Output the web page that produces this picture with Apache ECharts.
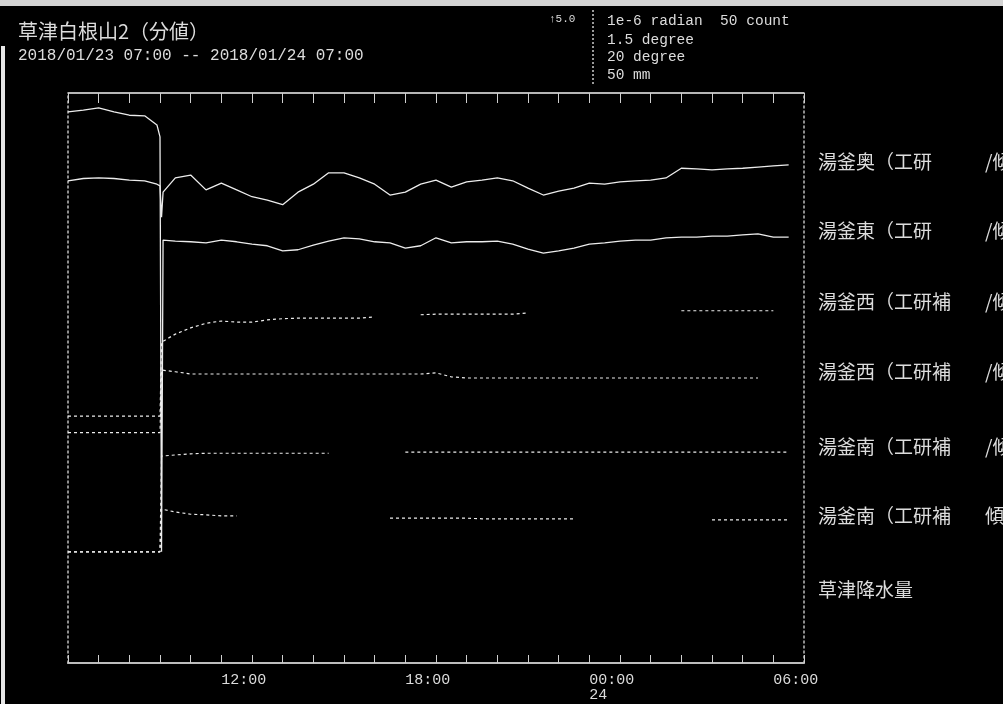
<!DOCTYPE html>
<html>
<head>
<meta charset="utf-8">
<script src="https://cdn.jsdelivr.net/npm/echarts@6/dist/echarts.min.js"></script>
<style>
html,body{margin:0;padding:0;background:#000;}
#chart{width:1003px;height:704px;}
</style>
</head>
<body>
<div id="chart"></div>
<script>
// hours since 2018/01/23 07:00
var hours = [0,0.5,1,1.5,2,2.5,2.9,3.0,3.05,3.1,3.5,4,4.5,5,5.5,6,6.5,7,7.5,8,8.5,9,9.5,10,10.5,11,11.5,12,12.5,13,13.5,14,14.5,15,15.5,16,16.5,17,17.5,18,18.5,19,19.5,20,20.5,21,21.5,22,22.5,23,23.5];

// display positions (percent of panel height, 0 = bottom, 100 = top)
var yugamaOku = [84.6,85.0,85.1,85.0,84.7,84.6,84.0,83.7,78.2,82.6,85.1,85.6,83.0,84.2,83.0,81.8,81.2,80.4,82.6,84.0,86.0,86.0,85.1,84.0,82.1,82.6,84.0,84.7,83.5,84.4,84.7,85.1,84.6,83.3,82.1,82.8,83.3,84.2,84.0,84.4,84.6,84.7,85.1,86.8,86.7,86.5,86.7,86.8,87.0,87.2,87.4];
var yugamaHigashi = [96.7,97.0,97.4,96.7,96.1,96.0,94.4,92.3,19.5,74.2,74.0,73.9,73.7,74.2,73.9,73.5,73.2,72.3,72.5,73.3,74.0,74.6,74.4,73.9,73.7,72.8,73.2,74.6,73.7,73.9,73.9,74.0,73.5,72.6,71.9,72.3,72.8,73.5,73.7,74.0,74.2,74.2,74.6,74.7,74.7,74.9,74.9,75.1,75.3,74.7,74.7];
var yugamaNishi1 = [43.3,43.3,43.3,43.3,43.3,43.3,43.3,43.3,56.3,56.3,57.7,58.8,59.6,60.0,59.8,59.8,60.2,60.4,60.5,60.5,60.5,60.5,60.5,60.7,null,null,61.1,61.2,61.2,61.2,61.2,61.2,61.2,61.4,null,null,null,null,null,null,null,null,null,61.8,61.8,61.8,61.8,61.8,61.8,61.8,null];
var yugamaNishi2 = [40.4,40.4,40.4,40.4,40.4,40.4,40.4,40.4,51.4,51.4,51.1,50.7,50.7,50.7,50.7,50.7,50.7,50.7,50.7,50.7,50.7,50.7,50.7,50.7,50.7,50.7,50.7,50.9,50.2,50.0,50.0,50.0,50.0,50.0,50.0,50.0,50.0,50.0,50.0,50.0,50.0,50.0,50.0,50.0,50.0,50.0,50.0,50.0,50.0,null,null];
var yugamaMinami1 = [19.5,19.5,19.5,19.5,19.5,19.5,19.5,19.5,36.3,36.3,36.5,36.7,36.8,36.8,36.8,36.8,36.8,36.8,36.8,36.8,36.8,null,null,null,null,37.0,37.0,37.0,37.0,37.0,37.0,37.0,37.0,37.0,37.0,37.0,37.0,37.0,37.0,37.0,37.0,37.0,37.0,37.0,37.0,37.0,37.0,37.0,37.0,37.0,37.0];
var yugamaMinami2 = [19.5,19.5,19.5,19.5,19.5,19.5,19.5,19.5,27.0,27.0,26.5,26.1,26.0,25.8,25.8,null,null,null,null,null,null,null,null,null,25.4,25.4,25.4,25.4,25.4,25.4,25.3,25.3,25.3,25.3,25.3,25.3,25.3,null,null,null,null,null,null,null,null,25.1,25.1,25.1,25.1,25.1,25.1];

// hourly precipitation (mm), hour centres
var rainHours = [0.5,1.5,2.5,3.5,4.5,5.5,6.5,7.5,8.5,9.5,10.5,11.5,12.5,13.5,14.5,15.5,16.5,17.5,18.5,19.5,20.5,21.5,22.5,23.5];
var rain = [0,0,0,0,0,0,0,0,0,0,0,0,0,0,0,0,0,0,0,0,0,0,0,0];

// x tick labels
var tickHours = [5,11,17,23];
var tickLabels = ['12:00','18:00','00:00\n24','06:00'];

// right-hand labels
var seriesNames = ['湯釜奥（工研','湯釜東（工研','湯釜西（工研補','湯釜西（工研補','湯釜南（工研補','湯釜南（工研補','草津降水量'];
var seriesUnits = ['/傾','/傾','/傾','/傾','/傾','傾',''];
var labelY = [162,231,302,372,447,516,590];

var title = '草津白根山2（分値）';
var period = '2018/01/23 07:00 -- 2018/01/24 07:00';
var scaleLines = ['1e-6 radian  50 count','1.5 degree','20 degree','50 mm'];
var scaleY = [21,40,57,75];

function pairs(arr){ return hours.map(function(h,i){ return [h, arr[i]]; }); }

var lineCol = '#ececec';
var textCol = '#dcdcdc';

var chart = echarts.init(document.getElementById('chart'));

var graphics = [
  {type:'rect', shape:{x:0,y:0,width:1003,height:6}, style:{fill:'#d4d4d4'}, silent:true},
  {type:'rect', shape:{x:1,y:46,width:4,height:658}, style:{fill:'#e8e8e8'}, silent:true},
  {type:'text', style:{text:title, x:18, y:31, fill:textCol, font:'20px "Noto Sans CJK JP"', verticalAlign:'middle'}},
  {type:'text', style:{text:period, x:18, y:56, fill:textCol, font:'16px "Liberation Mono"', verticalAlign:'middle'}},
  {type:'text', style:{text:'↑5.0', x:549, y:19, fill:textCol, font:'11px "Liberation Mono"', verticalAlign:'middle'}},
  {type:'line', shape:{x1:593,y1:10,x2:593,y2:85}, style:{stroke:'#cccccc', lineWidth:1.5, lineDash:[2,2]}}
];
scaleLines.forEach(function(t,i){
  graphics.push({type:'text', style:{text:t, x:607, y:scaleY[i], fill:textCol, font:'14.5px "Liberation Mono"', verticalAlign:'middle'}});
});
seriesNames.forEach(function(t,i){
  graphics.push({type:'text', style:{text:t, x:818, y:labelY[i], fill:textCol, font:'19px "Noto Sans CJK JP"', verticalAlign:'middle'}});
  if (seriesUnits[i]) graphics.push({type:'text', style:{text:seriesUnits[i], x:985, y:labelY[i], fill:textCol, font:'19px "Noto Sans CJK JP"', verticalAlign:'middle'}});
});

function lineSeries(name, arr, dashed){
  return {
    name:name, type:'line', xAxisIndex:0, yAxisIndex:0,
    data:pairs(arr), symbol:'none', connectNulls:false, animation:false,
    lineStyle:{color:lineCol, width:dashed?1.2:1.3, type:dashed?[3,3]:'solid'}
  };
}

var option = {
  backgroundColor:'#000',
  animation:false,
  grid:{left:68, right:199, top:93, bottom:41},
  xAxis:[
    {type:'value', position:'bottom', min:0, max:24, interval:1,
     axisLine:{show:true, onZero:false, lineStyle:{color:'#bdbdbd', width:2}},
     axisTick:{show:true, inside:true, length:8, lineStyle:{color:'#cfcfcf'}},
     splitLine:{show:false},
     axisLabel:{show:true, align:'left', margin:10, color:textCol, fontFamily:'Liberation Mono', fontSize:15, lineHeight:15,
       showMinLabel:true, showMaxLabel:true,
       formatter:function(v){ var k = tickHours.indexOf(Math.round(v*100)/100); return k>=0 ? tickLabels[k] : ''; }}
    },
    {type:'value', position:'top', min:0, max:24, interval:1,
     axisLine:{show:true, onZero:false, lineStyle:{color:'#f2f2f2', width:1.5}},
     axisTick:{show:true, inside:true, length:10, lineStyle:{color:'#cfcfcf'}},
     splitLine:{show:false}, axisLabel:{show:false}
    }
  ],
  yAxis:[
    {type:'value', position:'left', min:0, max:100,
     axisLine:{show:true, onZero:false, lineStyle:{color:'#bdbdbd', width:1.5, type:[2,3]}},
     axisTick:{show:false}, axisLabel:{show:false}, splitLine:{show:false}},
    {type:'value', position:'right', min:0, max:50,
     axisLine:{show:true, onZero:false, lineStyle:{color:'#bdbdbd', width:1.5, type:[2,3]}},
     axisTick:{show:false}, axisLabel:{show:false}, splitLine:{show:false}}
  ],
  series:[
    lineSeries('湯釜奥', yugamaOku, false),
    lineSeries('湯釜東', yugamaHigashi, false),
    lineSeries('湯釜西1', yugamaNishi1, true),
    lineSeries('湯釜西2', yugamaNishi2, true),
    lineSeries('湯釜南1', yugamaMinami1, true),
    lineSeries('湯釜南2', yugamaMinami2, true),
    {name:'草津降水量', type:'bar', xAxisIndex:0, yAxisIndex:1, barWidth:20,
     data:rainHours.map(function(h,i){ return [h, rain[i]]; }),
     itemStyle:{color:lineCol}}
  ],
  graphic:graphics
};
chart.setOption(option);
</script>
</body>
</html>
